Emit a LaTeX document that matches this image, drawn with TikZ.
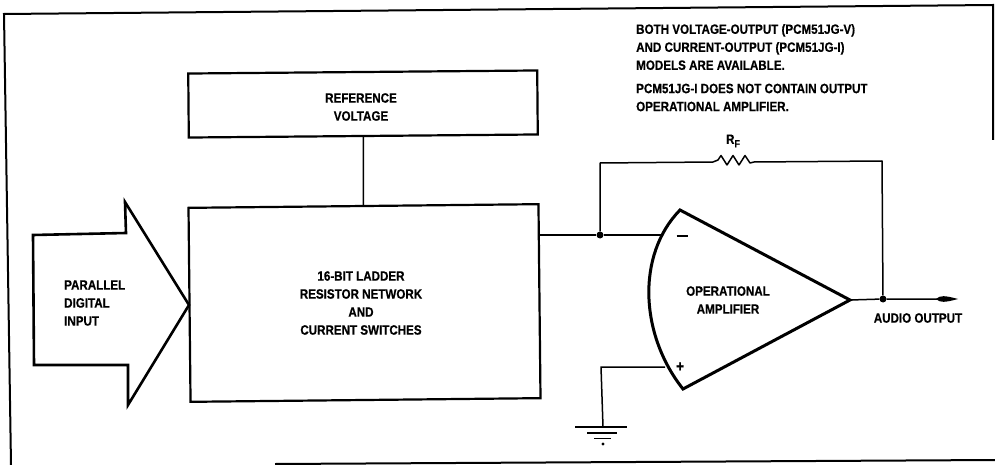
\documentclass[tikz,border=0pt]{standalone}
\usepackage{fontspec}
\setmainfont{Liberation Sans}[BoldFont={Liberation Sans Bold},BoldFeatures={FakeStretch=0.86,FakeBold=0.5}]
\tikzset{
  lbl/.style={font=\fontsize{13.5}{18}\selectfont\bfseries,inner sep=0pt,align=center},
  lbll/.style={lbl,align=left,anchor=west},
  blk/.style={draw=black,line width=2.2pt,fill=white,minimum width=#1,inner sep=0pt},
  wire/.style={draw=black,line width=1.5pt,line join=round},
  thick outline/.style={draw=black,line width=2.6pt,line join=miter},
  dot/.style={circle,fill=black,minimum size=7pt,inner sep=0pt}
}
\begin{document}
\begin{tikzpicture}[x=1pt,y=-1pt]
\useasboundingbox (0,0) rectangle (995,465);
\fill[white] (0,0) rectangle (995,465);
% frame
\draw[black,line width=2pt,line join=miter] (993,140) -- (993,5) -- (4,14) -- (11,465);
\draw[black,line width=2pt] (275,464) -- (995,460);
% blocks
\node[blk=349pt,minimum height=64pt,rotate=0.5] (refbox) at (363,104) {};
\node[blk=350pt,minimum height=194pt,rotate=0.6] (mainbox) at (364.5,303) {};
\draw[wire] (refbox.south) -- (mainbox.north);
% input arrow
\draw[thick outline,fill=white] (33,235) -- (126,233) -- (125,202) -- (189,305) -- (128,405) -- (128,365) -- (34,365) -- cycle;
% op amp
\coordinate (ampA) at (680,210);
\coordinate (ampB) at (683,389);
\coordinate (amptip) at (850,300);
\draw[thick outline,line width=3pt,fill=white] (ampA) .. controls (636,255) and (640,335) .. (ampB) -- (amptip) -- cycle;
% junctions
\node[dot] (jin) at (600,235) {};
\node[dot] (jout) at (883,299) {};
\coordinate (inneg) at (662,235);
\coordinate (inpos) at (665,367);
\coordinate (mainout) at (539,235);
\coordinate (fbl) at (600,163);
\coordinate (fbr) at (882,161);
\coordinate (rl) at (713,162);
\coordinate (rr) at (754,162);
\coordinate (gc) at (601,367);
\coordinate (audio) at (945,299);
\node[inner sep=0pt,minimum size=0pt] (gnd) at (603,427) {};
\draw[wire] (mainout) -- (jin) -- (inneg);
\draw[wire] (jin) -- (fbl) -- (rl) -- (718,160) -- (721,155.5) -- (727,165) -- (733,155.5) -- (739,165) -- (745,155.5) -- (750,163) -- (rr) -- (fbr) -- (jout);
\draw[wire] (amptip) -- (jout) -- (audio);
\fill[black] (936,299) .. controls (940,295) and (945,295.5) .. (958,299) .. controls (945,302.5) and (940,303) .. (936,299) -- cycle;
\draw[wire] (inpos) -- (gc) -- (gnd);
% ground
\coordinate (g1a) at (575,427); \coordinate (g1b) at (627,427);
\coordinate (g2a) at (587,433); \coordinate (g2b) at (617,433);
\coordinate (g3a) at (594,438.5); \coordinate (g3b) at (611,438.5);
\draw[black,line width=2.2pt] (g1a) -- (g1b);
\draw[black,line width=2.2pt] (g2a) -- (g2b);
\draw[black,line width=1.8pt] (g3a) -- (g3b);
\fill[black] (603,444) circle (1.6pt);
% signs
\node[lbl] (minus) at (682,235.5) {\rule{11pt}{2pt}};
\node[lbl,font=\fontsize{16}{16}\selectfont\bfseries] (plus) at (680,367) {+};
% labels
\node[lbll] (tinput) at (64,303) {PARALLEL\\DIGITAL\\INPUT};
\node[lbl] (tref) at (361,107) {REFERENCE\\VOLTAGE};
\node[lbl] (tmain) at (361,303) {16-BIT LADDER\\RESISTOR NETWORK\\AND\\CURRENT SWITCHES};
\node[lbl] (tamp) at (728,300) {OPERATIONAL\\AMPLIFIER};
\node[lbl] (taudio) at (918,318) {AUDIO OUTPUT};
\node[lbll] (note1) at (636,47) {BOTH VOLTAGE-OUTPUT (PCM51JG-V)\\AND CURRENT-OUTPUT (PCM51JG-I)\\MODELS ARE AVAILABLE.};
\node[lbll] (note2) at (636,97.5) {PCM51JG-I DOES NOT CONTAIN OUTPUT\\OPERATIONAL AMPLIFIER.};
\node[lbl] (trf) at (733,141) {R\raisebox{-3.5pt}{\fontsize{10.5}{10.5}\selectfont F}};
\end{tikzpicture}
\end{document}
